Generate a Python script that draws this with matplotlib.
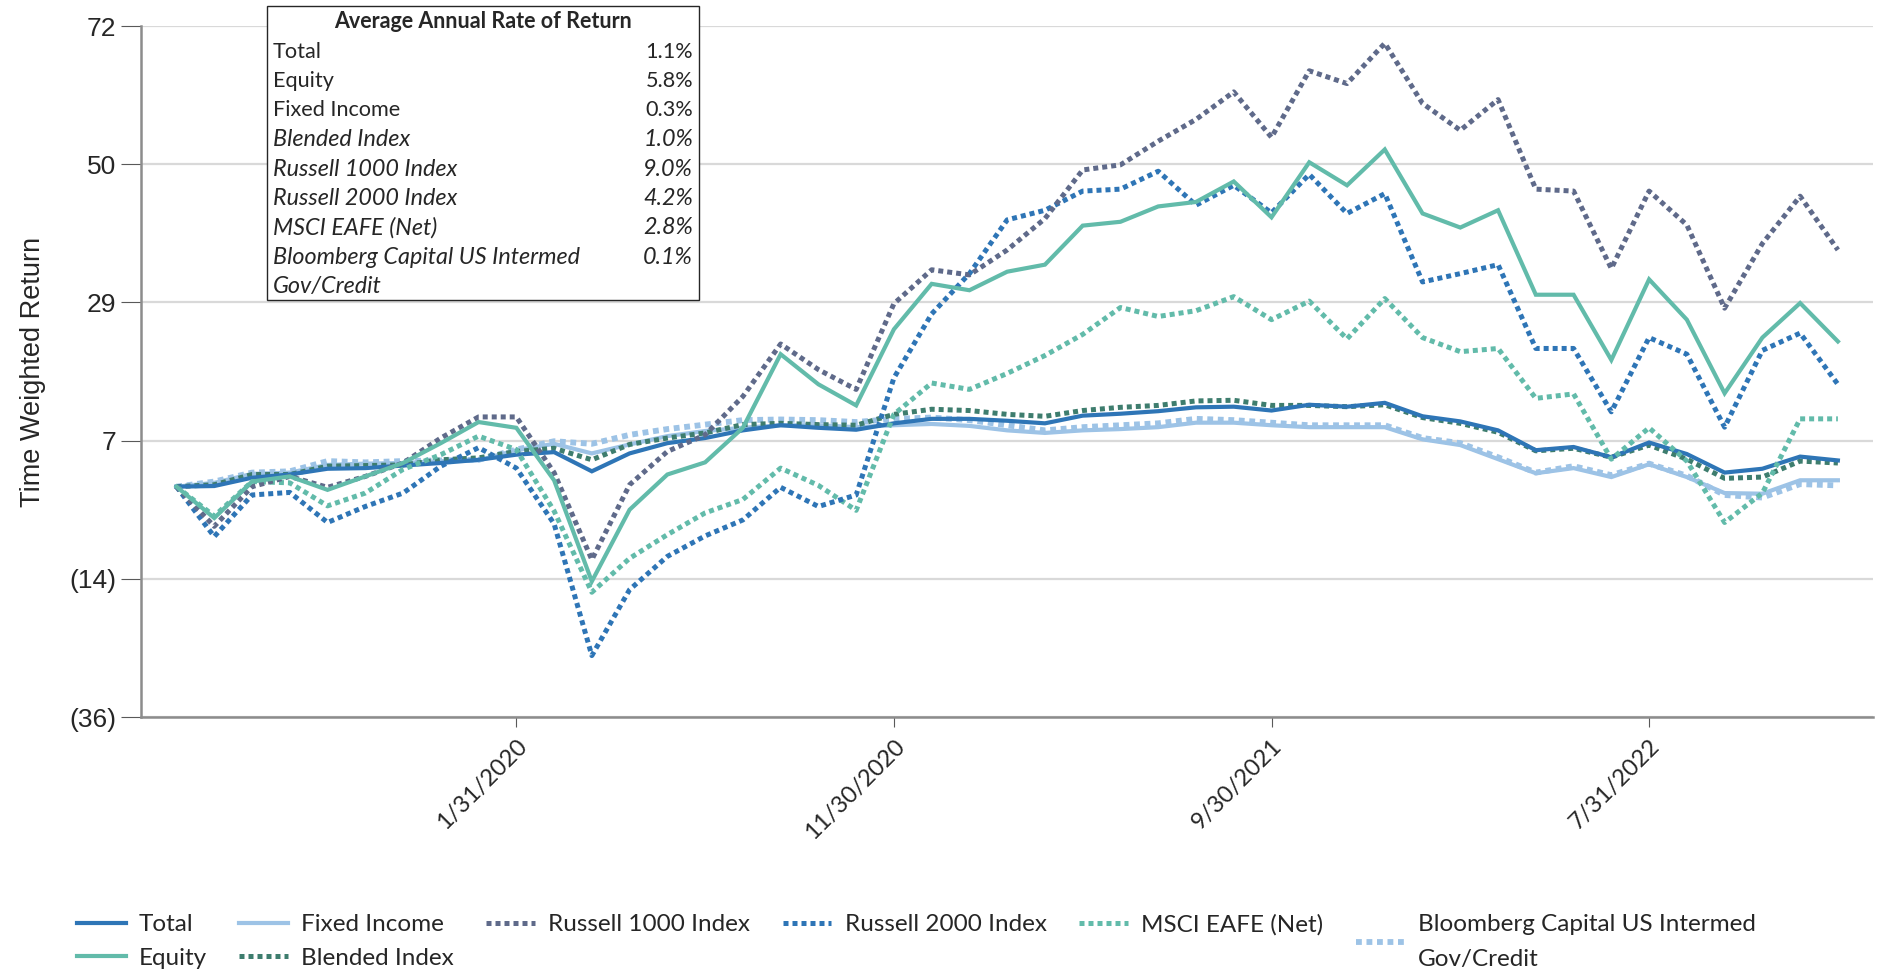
import numpy as np
import pandas as pd
import matplotlib
matplotlib.use("Agg")
import matplotlib.pyplot as plt
from matplotlib.patches import Rectangle
from matplotlib.lines import Line2D

# month-end dates, 4/30/2019 .. 12/31/2022
dates = pd.date_range("2019-04-30", periods=45, freq="ME")

total = [0, 0.1, 1.4, 1.9, 2.8, 2.9, 3.3, 3.7, 4.2, 5.0, 5.4, 2.4, 5.2, 6.8, 7.6, 8.8,
         9.6, 9.2, 8.9, 9.9, 10.6, 10.6, 10.3, 9.9, 11.1, 11.4, 11.8, 12.4, 12.5, 11.9,
         12.8, 12.5, 13.1, 11.0, 10.2, 8.8, 5.7, 6.2, 4.6, 6.9, 5.1, 2.2, 2.8, 4.7, 4.1]
equity = [0, -4.9, 0.8, 1.6, -0.5, 1.6, 3.7, 6.8, 10.1, 9.2, 1.0, -14.8, -3.6, 1.9, 3.8,
          9.2, 20.7, 16.0, 12.7, 24.6, 31.7, 30.7, 33.6, 34.7, 40.8, 41.4, 43.8, 44.5,
          47.7, 42.1, 50.7, 47.1, 52.7, 42.7, 40.5, 43.2, 30.0, 30.0, 19.8, 32.4, 26.1,
          14.6, 23.3, 28.7, 22.7]
fixed_income = [0, 0.6, 2.0, 2.2, 3.4, 3.6, 3.7, 4.0, 4.1, 5.7, 6.7, 5.2, 6.6, 7.9, 8.7,
                9.2, 9.6, 9.6, 9.3, 9.6, 9.8, 9.5, 8.8, 8.4, 8.8, 9.0, 9.3, 10.0, 10.0,
                9.6, 9.3, 9.3, 9.3, 7.4, 6.5, 4.3, 2.1, 2.9, 1.5, 3.5, 1.5, -1.0, -1.1,
                1.0, 1.0]
blended = [0, 0.3, 1.9, 1.9, 3.2, 3.3, 3.4, 4.2, 4.5, 5.5, 6.0, 4.2, 6.6, 7.6, 8.4, 9.7,
           9.9, 9.7, 9.6, 11.3, 12.1, 11.9, 11.3, 11.0, 11.9, 12.4, 12.7, 13.4, 13.5,
           12.7, 12.7, 12.5, 12.8, 10.8, 9.9, 8.5, 5.6, 6.0, 4.6, 6.5, 4.3, 1.3, 1.5,
           4.0, 3.7]
russell_1000 = [0, -6.2, 0.0, 1.6, -0.1, 1.6, 3.7, 7.6, 10.9, 10.9, 2.2, -11.4, 0.3, 5.5,
                8.1, 14.1, 22.3, 18.3, 15.2, 28.6, 33.9, 33.1, 37.0, 41.9, 49.5, 50.3,
                54.0, 57.4, 61.7, 54.6, 65.0, 63.0, 69.3, 59.9, 55.7, 60.5, 46.5, 46.2,
                34.1, 46.2, 40.9, 27.9, 38.0, 45.4, 37.0]
russell_2000 = [0, -7.8, -1.3, -0.9, -5.6, -3.1, -1.0, 3.2, 6.1, 2.9, -5.8, -26.4, -16.1,
                -10.9, -7.7, -5.2, -0.1, -3.1, -1.3, 17.0, 27.0, 33.3, 41.7, 43.2, 46.2,
                46.5, 49.3, 44.0, 47.1, 42.8, 48.8, 42.7, 45.8, 32.0, 33.3, 34.7, 21.6,
                21.6, 11.7, 23.3, 20.7, 9.3, 21.3, 24.0, 16.0]
msci_eafe = [0, -4.6, 0.8, 0.6, -3.0, -1.0, 2.7, 5.0, 7.9, 5.8, -3.8, -16.5, -11.2, -7.5,
             -4.1, -2.0, 2.9, 0.2, -3.7, 11.3, 16.2, 15.2, 17.7, 20.5, 23.8, 28.0, 26.6,
             27.5, 29.7, 26.1, 29.0, 23.1, 29.4, 23.3, 21.1, 21.6, 13.8, 14.5, 4.3, 9.2,
             4.0, -5.6, -1.0, 10.6, 10.6]
bloomberg = [0, 0.8, 2.2, 2.4, 4.0, 3.8, 4.0, 4.1, 4.2, 5.8, 7.1, 6.7, 8.1, 9.0, 9.7,
             10.4, 10.5, 10.4, 10.1, 10.6, 10.8, 10.4, 9.6, 8.8, 9.3, 9.6, 9.9, 10.6,
             10.4, 10.0, 9.6, 9.6, 9.6, 7.6, 6.8, 4.6, 2.2, 3.2, 1.8, 3.6, 1.7, -1.3,
             -1.7, 0.4, 0.2]

# summary table
table_names = ["Total", "Equity", "Fixed Income", "Blended Index", "Russell 1000 Index",
               "Russell 2000 Index", "MSCI EAFE (Net)", "Bloomberg Capital US Intermed\nGov/Credit"]
table_values = ["1.1%", "5.8%", "0.3%", "1.0%", "9.0%", "4.2%", "2.8%", "0.1%"]
table_italic = [False, False, False, True, True, True, True, True]

y_ticks = [72, 50.4, 28.8, 7.2, -14.4, -36]
x_tick_idx = [9, 19, 29, 39]

BLUE = "#2E75B6"
LIGHT = "#9DC3E6"
TEAL = "#62BBAA"
DGREEN = "#3E7D6E"
SLATE = "#5F6A8A"
DOT = (0, (1, 0.8))

W, H = 1883, 971
fig = plt.figure(figsize=(W / 100, H / 100), dpi=100)
ax = fig.add_axes([141 / W, 1 - 717 / H, (1873 - 141) / W, (717 - 26) / H])

x = np.arange(len(dates))
series = [
    ("Fixed Income", fixed_income, LIGHT, "-", 3.0),
    ("Bloomberg Capital US Intermed\nGov/Credit", bloomberg, LIGHT, DOT, 4.2),
    ("Blended Index", blended, DGREEN, DOT, 3.6),
    ("Total", total, BLUE, "-", 3.0),
    ("MSCI EAFE (Net)", msci_eafe, TEAL, DOT, 3.6),
    ("Russell 2000 Index", russell_2000, BLUE, DOT, 3.6),
    ("Russell 1000 Index", russell_1000, SLATE, DOT, 3.6),
    ("Equity", equity, TEAL, "-", 3.0),
]
styles = {}
for name, vals, col, ls, lw in series:
    ax.plot(x, vals, color=col, linestyle=ls, lw=lw, label=name,
            solid_joinstyle="miter", zorder=3)
    styles[name] = (col, ls, lw)

ax.set_xlim(-0.94, 44.93)
ax.set_ylim(-36, 72)
ax.set_yticks(y_ticks)
ax.set_yticklabels([f"({abs(round(v))})" if v < 0 else f"{round(v)}" for v in y_ticks],
                   fontsize=19, family="Liberation Sans", color="#262626")
ax.set_xticks(x_tick_idx)
ax.set_xticklabels([f"{dates[i].month}/{dates[i].day}/{dates[i].year}" for i in x_tick_idx],
                   rotation=45, ha="right", va="top", rotation_mode="anchor",
                   fontsize=17, family="Lato", color="#262626")
ax.tick_params(axis="y", length=14.4, width=0.8, color="#595959", pad=3.5)
ax.tick_params(axis="x", length=7, width=0.8, color="#595959", pad=6)
ax.grid(axis="y", color="#D9D9D9", lw=1.6, zorder=0)
ax.set_axisbelow(True)
for s in ["top", "right"]:
    ax.spines[s].set_visible(False)
for s in ["left", "bottom"]:
    ax.spines[s].set_color("#8C8C8C")
    ax.spines[s].set_linewidth(1.8)
ax.set_ylabel("Time Weighted Return", fontsize=19.5, family="Liberation Sans",
              color="#262626", labelpad=17)

# summary box
ax.add_patch(Rectangle((267 / W, 1 - 300 / H), (699 - 267) / W, (300 - 6) / H,
                       transform=fig.transFigure, facecolor="white", edgecolor="#262626",
                       lw=1.0, zorder=10, clip_on=False))
fig.text(483 / W, 1 - 21.7 / H, "Average Annual Rate of Return", ha="center", va="center",
         fontsize=15.5, family="Lato", weight="bold", color="#262626", zorder=11)
row = 0
for name, val, it in zip(table_names, table_values, table_italic):
    style = "italic" if it else "normal"
    size = 16.8 if it else 15.6
    for k, part in enumerate(name.split("\n")):
        fig.text(273 / W, 1 - (51.7 + 29.35 * (row + k)) / H, part, ha="left", va="center",
                 fontsize=size, family="Lato", style=style, color="#262626", zorder=11)
    fig.text(693 / W, 1 - (51.7 + 29.35 * row) / H, val, ha="right", va="center",
             fontsize=size, family="Lato", style=style, color="#262626", zorder=11)
    row += len(name.split("\n"))

# bottom legend
order = ["Total", "Equity", "Fixed Income", "Blended Index", "Russell 1000 Index",
         "Russell 2000 Index", "MSCI EAFE (Net)", "Bloomberg Capital US Intermed\nGov/Credit"]
handles = [Line2D([], [], color=styles[n][0], linestyle=styles[n][1], lw=styles[n][2])
           for n in order]
leg = fig.legend(handles, order, loc="upper left", bbox_to_anchor=(77 / W, 1 - 914 / H),
                 ncol=6, frameon=False, borderpad=0, borderaxespad=0,
                 handlelength=2.0, handletextpad=0.55, columnspacing=1.33,
                 labelspacing=0.52, prop={"family": "Lato", "size": 17.5})
for t in leg.get_texts():
    t.set_color("#262626")
    t.set_linespacing(1.85)
leg._legend_handle_box.align = "top"

fig.savefig("out.png", dpi=100)
